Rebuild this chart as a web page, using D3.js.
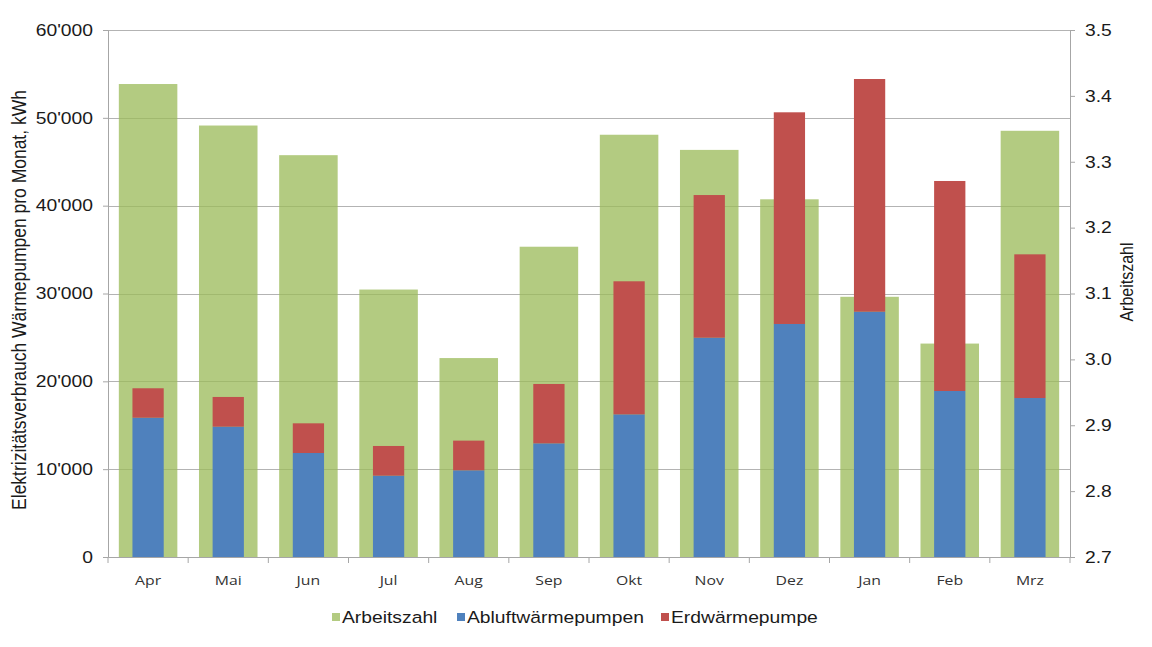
<!DOCTYPE html>
<html>
<head>
<meta charset="utf-8">
<script src="https://cdn.jsdelivr.net/npm/d3@7"></script>
<style>
  html, body { margin: 0; padding: 0; background: #fff; }
  svg { display: block; }
</style>
</head>
<body>
<svg id="chart" width="1152" height="647"></svg>
<script>
const months = ["Apr","Mai","Jun","Jul","Aug","Sep","Okt","Nov","Dez","Jan","Feb","Mrz"];
const arbeitszahl = [3.418, 3.355, 3.310, 3.106, 3.002, 3.171, 3.341, 3.318, 3.243, 3.095, 3.024, 3.347];
const abluft = [15860, 14840, 11840, 9260, 9870, 12940, 16240, 24970, 26530, 27930, 18900, 18100];
const erdTotal = [19210, 18220, 15220, 12640, 13250, 19700, 31390, 41210, 50630, 54420, 42810, 34460];
const erd = erdTotal.map((t, i) => t - abluft[i]);
const leftTicks = [0, 10000, 20000, 30000, 40000, 50000, 60000];
const rightTicks = [2.7, 2.8, 2.9, 3.0, 3.1, 3.2, 3.3, 3.4, 3.5];
const legendItems = ["Arbeitszahl", "Abluftwärmepumpen", "Erdwärmepumpe"];
const colors = { green: "#9BBB59", blue: "#4F81BD", red: "#C0504D" };

const SX = 1.17; // horizontal stretch of the reference's text
const svg = d3.select("#chart");
const m = { left: 108, right: 1070, top: 30, bottom: 557 };

const x = d3.scaleBand().domain(months).range([m.left, m.right]).padding(0);
const yL = d3.scaleLinear().domain([0, 60000]).range([m.bottom, m.top]);
const yR = d3.scaleLinear().domain([2.7, 3.5]).range([m.bottom, m.top]);
const bw = x.bandwidth();
const gW = bw * 0.73, sW = bw * 0.39;

const fmt = d => d === 0 ? "0" : d3.format(",")(d).replace(/,/g, "'");
const FONT = "Liberation Sans, Arial, sans-serif";

// gridlines
svg.append("g").selectAll("line").data(leftTicks.slice(1)).join("line")
  .attr("x1", m.left).attr("x2", m.right)
  .attr("y1", d => Math.round(yL(d)) + 0.5).attr("y2", d => Math.round(yL(d)) + 0.5)
  .attr("stroke", "#b3b3b3").attr("stroke-width", 1.2);

// green bars (secondary axis)
svg.append("g").selectAll("rect").data(months).join("rect")
  .attr("x", (d) => x(d) + (bw - gW) / 2)
  .attr("width", gW)
  .attr("y", (d, i) => yR(arbeitszahl[i]))
  .attr("height", (d, i) => m.bottom - yR(arbeitszahl[i]))
  .attr("fill", colors.green).attr("fill-opacity", 0.76);

// stacked bars
svg.append("g").selectAll("rect").data(months).join("rect")
  .attr("x", d => x(d) + (bw - sW) / 2)
  .attr("width", sW)
  .attr("y", (d, i) => yL(abluft[i]))
  .attr("height", (d, i) => m.bottom - yL(abluft[i]))
  .attr("fill", colors.blue);
svg.append("g").selectAll("rect").data(months).join("rect")
  .attr("x", d => x(d) + (bw - sW) / 2)
  .attr("width", sW)
  .attr("y", (d, i) => yL(abluft[i] + erd[i]))
  .attr("height", (d, i) => yL(abluft[i]) - yL(abluft[i] + erd[i]))
  .attr("fill", colors.red);

const axisColor = "#a6a6a6";

// left axis
const gl = svg.append("g").attr("transform", `translate(${m.left},0)`)
  .call(d3.axisLeft(yL).tickValues(leftTicks).tickFormat(fmt).tickSize(5).tickPadding(9));
gl.select(".domain").attr("stroke", axisColor);
gl.selectAll(".tick line").attr("stroke", axisColor);
gl.selectAll("text").attr("font-family", FONT)
  .attr("font-size", 16.5).attr("fill", "#1a1a1a")
  .attr("x", -15 / SX).attr("transform", `scale(${SX},1)`);

// right axis
const gr = svg.append("g").attr("transform", `translate(${m.right},0)`)
  .call(d3.axisRight(yR).tickValues(rightTicks).tickFormat(d3.format(".1f")).tickSize(5).tickPadding(10));
gr.select(".domain").attr("stroke", axisColor);
gr.selectAll(".tick line").attr("stroke", axisColor);
gr.selectAll("text").attr("font-family", FONT)
  .attr("font-size", 16.5).attr("fill", "#1a1a1a")
  .attr("x", 15 / SX).attr("transform", `scale(${SX},1)`);

// bottom axis
const gb = svg.append("g").attr("transform", `translate(0,${m.bottom})`)
  .call(d3.axisBottom(x).tickSize(0).tickPadding(18));
gb.select(".domain").attr("stroke", axisColor);
gb.selectAll("text").attr("font-family", "Open Sans, Noto Sans, sans-serif")
  .attr("font-size", 13.5).attr("fill", "#333")
  .attr("transform", `scale(${SX},1)`);
// category boundary ticks
svg.append("g").selectAll("line").data(months.concat(["_end"])).join("line")
  .attr("x1", (d, i) => i < months.length ? x(d) : m.right)
  .attr("x2", (d, i) => i < months.length ? x(d) : m.right)
  .attr("y1", m.bottom).attr("y2", m.bottom + 6)
  .attr("stroke", axisColor);

// axis titles
svg.append("text")
  .attr("transform", `translate(26,300) rotate(-90) scale(1,${SX})`)
  .attr("text-anchor", "middle")
  .attr("font-family", FONT)
  .attr("font-size", 17.5).attr("fill", "#1a1a1a")
  .text("Elektrizitätsverbrauch Wärmepumpen pro Monat, kWh");
svg.append("text")
  .attr("transform", `translate(1133,282) rotate(-90) scale(1,${SX})`)
  .attr("text-anchor", "middle")
  .attr("font-family", FONT)
  .attr("font-size", 16).attr("fill", "#1a1a1a")
  .text("Arbeitszahl");

// legend
const legX = [332, 457, 661];
const legC = [colors.green, colors.blue, colors.red];
const lg = svg.append("g");
legendItems.forEach((t, i) => {
  lg.append("rect").attr("x", legX[i]).attr("y", 613).attr("width", 8).attr("height", 8)
    .attr("fill", legC[i]).attr("fill-opacity", i === 0 ? 0.76 : 1);
  lg.append("g").attr("transform", `translate(${legX[i] + 10},623) scale(${SX},1)`)
    .append("text")
    .attr("font-family", FONT)
    .attr("font-size", 16.5).attr("fill", "#1a1a1a").text(t);
});
</script>
</body>
</html>
